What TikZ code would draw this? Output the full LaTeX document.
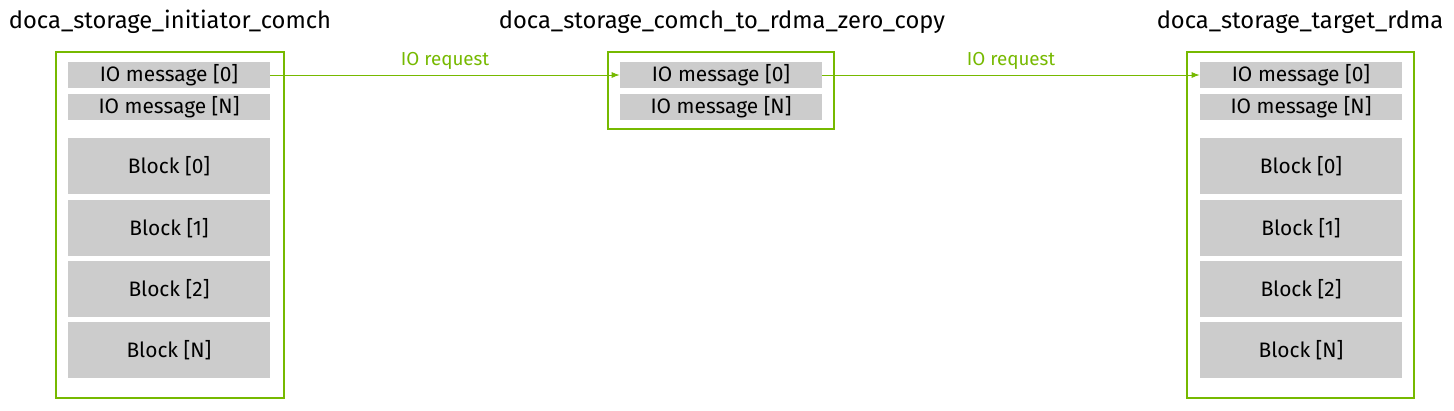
\documentclass[tikz,border=0pt]{standalone}
\usepackage{fontspec}
\setmainfont{Fira Sans}
\usetikzlibrary{arrows.meta,positioning}
\definecolor{nvgreen}{HTML}{76B900}
\definecolor{slotgray}{HTML}{CCCCCC}
\tikzset{
  frame/.style={draw=nvgreen, line width=1.2pt},
  msg/.style={fill=slotgray, minimum width=4.04cm, minimum height=0.52cm, inner sep=0pt, font=\fontsize{11.9}{13}\selectfont},
  blk/.style={fill=slotgray, minimum width=4.04cm, minimum height=1.12cm, inner sep=0pt, font=\fontsize{11.9}{13}\selectfont},
  title/.style={font=\fontsize{13.5}{15}\selectfont, inner sep=0pt},
  req/.style={draw=nvgreen, -{Latex[length=1.6mm,width=1.2mm]}, line width=0.5pt},
  reqlabel/.style={text=nvgreen, font=\fontsize{10.7}{12}\selectfont, inner sep=0pt}
}
\begin{document}
\begin{tikzpicture}[x=0.02cm, y=-0.02cm]
  \useasboundingbox (0,0) rectangle (1454,410);

  % titles
  \node[title] (tinit) at (170,22) {doca\_storage\_initiator\_comch};
  \node[title] (tzc) at (722,22) {doca\_storage\_comch\_to\_rdma\_zero\_copy};
  \node[title] (ttgt) at (1300,22) {doca\_storage\_target\_rdma};

  % frames
  \draw[frame] (56,52) rectangle (284,398);
  \draw[frame] (608,52) rectangle (834,129);
  \draw[frame] (1187,52) rectangle (1414,398);

  % initiator
  \node[msg] (im0) at (169,75) {IO message [0]};
  \node[msg] (imN) at (169,107) {IO message [N]};
  \node[blk] (ib0) at (169,166) {Block [0]};
  \node[blk] (ib1) at (169,228) {Block [1]};
  \node[blk] (ib2) at (169,289) {Block [2]};
  \node[blk] (ibN) at (169,350) {Block [N]};

  % zero copy
  \node[msg] (zm0) at (721,75) {IO message [0]};
  \node[msg] (zmN) at (721,107) {IO message [N]};

  % target
  \node[msg] (gm0) at (1301,75) {IO message [0]};
  \node[msg] (gmN) at (1301,107) {IO message [N]};
  \node[blk] (gb0) at (1301,166) {Block [0]};
  \node[blk] (gb1) at (1301,228) {Block [1]};
  \node[blk] (gb2) at (1301,289) {Block [2]};
  \node[blk] (gbN) at (1301,350) {Block [N]};

  % requests
  \draw[req] (im0.east) -- node[reqlabel, above=3pt] {IO request} (zm0.west);
  \draw[req] (zm0.east) -- node[reqlabel, above=3pt] {IO request} (gm0.west);
\end{tikzpicture}
\end{document}
